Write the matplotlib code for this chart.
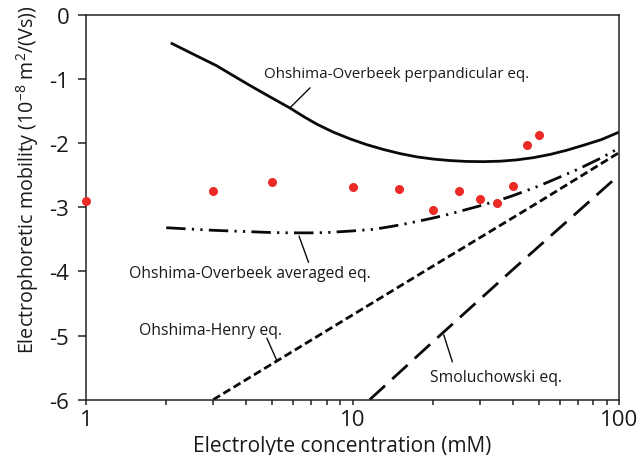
import matplotlib
matplotlib.use("Agg")
import matplotlib.pyplot as plt
from matplotlib.ticker import LogLocator, FixedLocator, NullFormatter, FixedFormatter

plt.rcParams['font.family'] = ['Open Sans', 'DejaVu Sans']
plt.rcParams['mathtext.fontset'] = 'custom'
plt.rcParams['mathtext.rm'] = 'Open Sans'
plt.rcParams['mathtext.it'] = 'Open Sans:italic'
plt.rcParams['lines.scale_dashes'] = False

# ---- data ----
conc_exp = [1, 3, 5, 10, 15, 20, 25, 30, 35, 40, 45, 50]
mob_exp = [-2.90, -2.75, -2.60, -2.68, -2.72, -3.05, -2.75, -2.87, -2.93, -2.67, -2.03, -1.88]

conc_perp = [2.08, 2.54, 3.09, 3.57, 4.13, 4.9, 5.83, 6.54, 7.34, 8.47, 9.79, 11.3,
             13.05, 15.1, 17.4, 20.1, 23.2, 26.8, 31, 35.8, 41.3, 47.7, 55.1, 63.7,
             73.5, 86.1, 100]
mob_perp = [-0.44, -0.62, -0.795, -0.95, -1.105, -1.28, -1.455, -1.585, -1.705, -1.83,
            -1.935, -2.025, -2.10, -2.165, -2.215, -2.25, -2.273, -2.287, -2.29, -2.283,
            -2.263, -2.228, -2.178, -2.112, -2.035, -1.945, -1.83]

conc_avg = [2, 3, 4, 5, 6, 7, 8, 10, 12, 14, 16, 18, 20, 23, 26, 30, 35, 40, 45,
            50, 60, 70, 85, 100]
mob_avg = [-3.32, -3.36, -3.38, -3.395, -3.40, -3.40, -3.395, -3.37, -3.345, -3.30,
           -3.255, -3.21, -3.17, -3.11, -3.05, -2.98, -2.90, -2.82, -2.74, -2.67,
           -2.53, -2.41, -2.24, -2.08]

conc_henry = [3, 5, 10, 20, 50, 100]
mob_henry = [-6.0, -5.44, -4.68, -3.92, -2.92, -2.15]

conc_smol = [11.6, 20, 40, 100]
mob_smol = [-6.0, -5.1, -3.97, -2.50]

yticks = [0, -1, -2, -3, -4, -5, -6]
xticks = [1, 10, 100]
xticklabels = ['1', '10', '100']

fig = plt.figure(figsize=(6.38, 4.56), dpi=100)
ax = fig.add_axes([86 / 638, 1 - 400.7 / 456, 533 / 638, 385 / 456])

lc = '#0a0a0a'
tc = '#1a1a1a'
ax.plot(conc_perp, mob_perp, color=lc, lw=2.0, solid_capstyle='butt')
ax.plot(conc_avg, mob_avg, color=lc, lw=2.0,
        dashes=(14, 4.5, 1.6, 4.5, 1.6, 4.5))
ax.plot(conc_henry, mob_henry, color=lc, lw=2.0, dashes=(5.8, 2.8))
ax.plot(conc_smol, mob_smol, color=lc, lw=2.0, dashes=(15, 7))
ax.plot(conc_exp, mob_exp, 'o', color='#ec2a26', ms=6.5, mec='none',
        clip_on=False, zorder=5)

ax.set_xscale('log')
ax.set_xlim(1, 100)
ax.set_ylim(-6, 0)
ax.xaxis.set_major_locator(FixedLocator(xticks))
ax.xaxis.set_major_formatter(FixedFormatter(xticklabels))
ax.xaxis.set_minor_locator(LogLocator(base=10, subs=range(2, 10)))
ax.xaxis.set_minor_formatter(NullFormatter())
ax.set_yticks(yticks)
ax.set_yticklabels([str(v) for v in yticks])

for s in ax.spines.values():
    s.set_linewidth(1.1)
    s.set_color('#222222')
ax.tick_params(axis='x', which='both', direction='out', length=3.8, width=1.1,
               pad=3, labelsize=16, colors='#222222', labelcolor=tc)
ax.tick_params(axis='y', which='major', direction='out', length=6, width=1.1,
               pad=6, labelsize=16, colors='#222222', labelcolor=tc)

ax.text(-0.11, 0.573, r'Electrophoretic mobility (10$^{-8}$ m$^{2}$/(Vs))',
        transform=ax.transAxes, rotation=90, ha='center', va='center',
        fontsize=14.2, color=tc)
ax.text(0.48, -0.118, 'Electrolyte concentration (mM)', transform=ax.transAxes,
        ha='center', va='center', fontsize=15, color=tc)

fs = 11.3
pk = dict(arrowstyle='-', color=lc, lw=1.0, shrinkA=0, shrinkB=0)
ax.annotate('', xy=(5.83, -1.45), xytext=(6.93, -1.14), arrowprops=pk)
ax.text(14.6, -0.92, 'Ohshima-Overbeek perpandicular eq.', ha='center', va='center',
        fontsize=10.9, color=tc)
ax.annotate('', xy=(6.3, -3.45), xytext=(6.84, -3.86), arrowprops=pk)
ax.text(1.45, -4.02, 'Ohshima-Overbeek averaged eq.', ha='left', va='center',
        fontsize=fs, color=tc)
ax.annotate('', xy=(5.2, -5.39), xytext=(4.77, -5.04), arrowprops=pk)
ax.text(1.58, -4.91, 'Ohshima-Henry eq.', ha='left', va='center',
        fontsize=fs, color=tc)
ax.annotate('', xy=(22.0, -4.99), xytext=(23.7, -5.41), arrowprops=pk)
ax.text(19.5, -5.65, 'Smoluchowski eq.', ha='left', va='center',
        fontsize=fs, color=tc)

fig.savefig('out.png', dpi=100)
